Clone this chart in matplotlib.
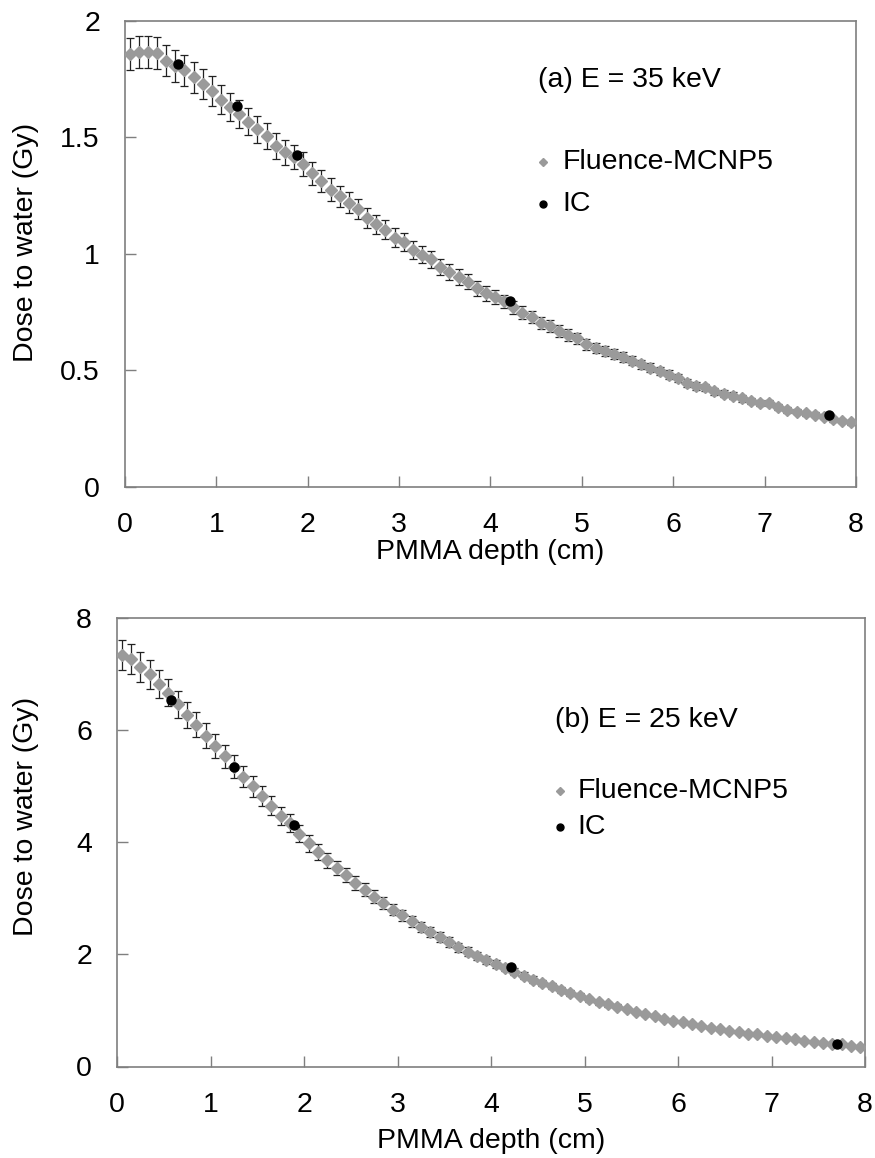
import matplotlib
matplotlib.use("Agg")
import matplotlib.pyplot as plt
import numpy as np

plt.rcParams['font.family'] = ['Liberation Sans', 'DejaVu Sans']

# ---------------- data ----------------
depth = [0.05, 0.15, 0.25, 0.35, 0.45, 0.55, 0.65, 0.75, 0.85, 0.95,
         1.05, 1.15, 1.25, 1.35, 1.45, 1.55, 1.65, 1.75, 1.85, 1.95,
         2.05, 2.15, 2.25, 2.35, 2.45, 2.55, 2.65, 2.75, 2.85, 2.95,
         3.05, 3.15, 3.25, 3.35, 3.45, 3.55, 3.65, 3.75, 3.85, 3.95,
         4.05, 4.15, 4.25, 4.35, 4.45, 4.55, 4.65, 4.75, 4.85, 4.95,
         5.05, 5.15, 5.25, 5.35, 5.45, 5.55, 5.65, 5.75, 5.85, 5.95,
         6.05, 6.15, 6.25, 6.35, 6.45, 6.55, 6.65, 6.75, 6.85, 6.95,
         7.05, 7.15, 7.25, 7.35, 7.45, 7.55, 7.65, 7.75, 7.85, 7.95]

mcnp_35 = [1.856, 1.866, 1.866, 1.860, 1.829, 1.806, 1.787, 1.757, 1.729, 1.699,
           1.662, 1.630, 1.599, 1.566, 1.534, 1.506, 1.463, 1.435, 1.416, 1.384,
           1.345, 1.313, 1.276, 1.247, 1.220, 1.193, 1.152, 1.127, 1.104, 1.070,
           1.052, 1.016, 0.997, 0.976, 0.944, 0.923, 0.901, 0.880, 0.852, 0.830,
           0.813, 0.796, 0.770, 0.747, 0.730, 0.704, 0.691, 0.670, 0.652, 0.637,
           0.612, 0.597, 0.585, 0.572, 0.558, 0.542, 0.527, 0.512, 0.497, 0.482,
           0.466, 0.447, 0.434, 0.427, 0.411, 0.401, 0.391, 0.380, 0.370, 0.361,
           0.359, 0.344, 0.330, 0.323, 0.316, 0.310, 0.301, 0.291, 0.283, 0.277]

mcnp_25 = [7.34, 7.27, 7.13, 7.00, 6.82, 6.67, 6.46, 6.27, 6.10, 5.90,
           5.72, 5.53, 5.35, 5.17, 5.00, 4.83, 4.65, 4.47, 4.34, 4.15,
           3.98, 3.83, 3.68, 3.54, 3.41, 3.27, 3.15, 3.03, 2.91, 2.80,
           2.70, 2.59, 2.49, 2.40, 2.31, 2.22, 2.13, 2.05, 1.97, 1.90,
           1.83, 1.76, 1.69, 1.62, 1.55, 1.49, 1.43, 1.37, 1.31, 1.26,
           1.20, 1.145, 1.109, 1.067, 1.020, 0.972, 0.931, 0.895, 0.853, 0.817,
           0.788, 0.752, 0.717, 0.693, 0.663, 0.639, 0.615, 0.585, 0.574, 0.544,
           0.520, 0.508, 0.484, 0.461, 0.437, 0.413, 0.400, 0.395, 0.366, 0.342]

rel_unc = 0.037  # relative uncertainty of the MCNP5 values

ic_depth_35 = [0.58, 1.225, 1.88, 4.21, 7.70]
ic_dose_35 = [1.816, 1.633, 1.422, 0.797, 0.309]

ic_depth_25 = [0.58, 1.25, 1.89, 4.21, 7.70]
ic_dose_25 = [6.54, 5.34, 4.31, 1.77, 0.40]

panels = [
    dict(ic_x=ic_depth_35, ic_y=ic_dose_35, y=mcnp_35, ylim=(0, 2),
         yticks=[0, 0.5, 1, 1.5, 2], yticklabels=['0', '0.5', '1', '1.5', '2'],
         title='(a) E = 35 keV'),
    dict(ic_x=ic_depth_25, ic_y=ic_dose_25, y=mcnp_25, ylim=(0, 8),
         yticks=[0, 2, 4, 6, 8], yticklabels=['0', '2', '4', '6', '8'],
         title='(b) E = 25 keV'),
]

W, H = 875, 1158
fig = plt.figure(figsize=(W / 100, H / 100), dpi=100)

# axes boxes in pixel coords: left, right, top, bottom
boxes = [(125, 856, 20.7, 487), (117, 865, 618, 1066.5)]
annot = [
    dict(tx=0.565, ty=0.873, mx=0.572, lx=0.598, fy=0.697, iy=0.607,
         ylab=(-0.118, 0.525), xlab=(0.5, -0.112)),
    dict(tx=0.586, ty=0.773, mx=0.592, lx=0.616, fy=0.615, iy=0.535,
         ylab=(-0.104, 0.557), xlab=(0.5, -0.138)),
]

grey = '#9a9a9a'
spine_c = '#7f7f7f'
fs = 20.5

for p, (l, r, t, b), a in zip(panels, boxes, annot):
    ax = fig.add_axes([l / W, 1 - b / H, (r - l) / W, (b - t) / H])
    y = np.array(p['y'])
    ax.errorbar(depth, y, yerr=rel_unc * y, fmt='none', ecolor='#222222',
                elinewidth=0.9, capsize=3, capthick=0.9, zorder=2)
    ax.plot(depth, y, linestyle='none', marker='D', ms=6.2, color=grey,
            mec=grey, zorder=3)
    ax.plot(p['ic_x'], p['ic_y'], linestyle='none', marker='o', ms=6.5,
            color='black', zorder=4)
    ax.set_xlim(0, 8)
    ax.set_ylim(*p['ylim'])
    ax.set_xticks(range(0, 9))
    ax.set_xticklabels([str(i) for i in range(0, 9)])
    ax.set_yticks(p['yticks'])
    ax.set_yticklabels(p['yticklabels'])
    ax.tick_params(direction='in', length=8, width=1, color=spine_c,
                   labelsize=fs, top=False, right=False)
    ax.tick_params(axis='x', pad=18)
    ax.tick_params(axis='y', pad=18)
    for s in ax.spines.values():
        s.set_color(spine_c)
        s.set_linewidth(1.2)
    ax.set_xlabel('PMMA depth (cm)', fontsize=fs)
    ax.set_ylabel('Dose to water (Gy)', fontsize=fs)
    ax.xaxis.set_label_coords(*a['xlab'])
    ax.yaxis.set_label_coords(*a['ylab'])
    ax.text(a['tx'], a['ty'], p['title'], transform=ax.transAxes,
            fontsize=fs, ha='left', va='center')
    ax.plot([a['mx']], [a['fy']], transform=ax.transAxes, marker='D', ms=4,
            color=grey, linestyle='none', clip_on=False)
    ax.text(a['lx'], a['fy'], 'Fluence-MCNP5', transform=ax.transAxes,
            fontsize=fs, ha='left', va='center')
    ax.plot([a['mx']], [a['iy']], transform=ax.transAxes, marker='o', ms=5,
            color='black', linestyle='none', clip_on=False)
    ax.text(a['lx'], a['iy'], 'IC', transform=ax.transAxes,
            fontsize=fs, ha='left', va='center')

fig.savefig('out.png', dpi=100)
